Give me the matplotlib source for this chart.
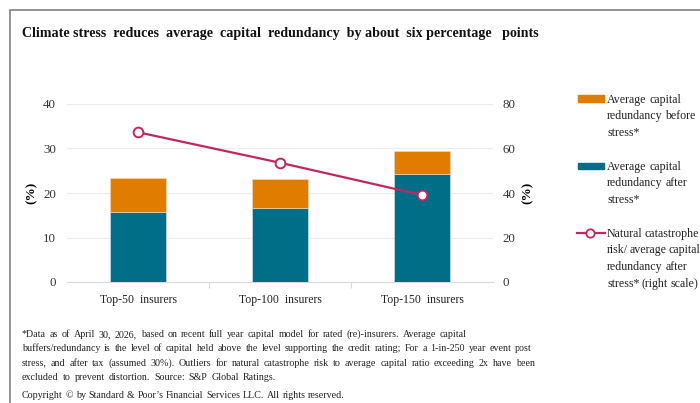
import matplotlib
matplotlib.use("Agg")
import matplotlib.pyplot as plt
from matplotlib.patches import Rectangle
from matplotlib.lines import Line2D
import numpy as np

categories = ["Top-50  insurers", "Top-100  insurers", "Top-150  insurers"]
after_stress = [15.8, 16.7, 24.3]
before_stress = [23.3, 23.1, 29.4]
natcat_ratio = [67.3, 53.6, 39.1]
left_ticks = [0, 10, 20, 30, 40]
right_ticks = [0, 20, 40, 60, 80]

title = "Climate stress  reduces  average  capital  redundancy  by about  six percentage   points"
legend_before = ["Average capital", "redundancy before", "stress*"]
legend_after = ["Average capital", "redundancy after", "stress*"]
legend_line = ["Natural catastrophe", "risk/ average capital", "redundancy after", "stress* (right scale)"]
footnote = [
    "*Data as of April 30, 2026, based on recent full year capital model for rated (re)-insurers. Average capital",
    "buffers/redundancy is the level of capital held above the level supporting the credit rating; For a 1-in-250 year event post",
    "stress, and after tax (assumed 30%). Outliers for natural catastrophe risk to average capital ratio exceeding 2x have been",
    "excluded to prevent distortion. Source: S&P Global Ratings.",
]
copyright_text = "Copyright \u00a9 by Standard & Poor\u2019s Financial Services LLC. All rights reserved."

ORANGE = "#E07C00"
TEAL = "#006E87"
CRIMSON = "#C2255F"

plt.rcParams["font.family"] = ["Liberation Serif", "DejaVu Serif"]

W, H = 700, 403
fig = plt.figure(figsize=(7, 4.03), dpi=100)

def fx(px):
    return px / W

def fy(py):
    return 1 - py / H

AX_L, AX_R = 67, 493
ax = fig.add_axes([fx(AX_L), fy(282), fx(AX_R) - fx(AX_L), fy(104) - fy(282)])
x = np.arange(len(categories))
top_part = [b - a for a, b in zip(after_stress, before_stress)]
ax.bar(x, after_stress, width=0.4, color=TEAL, edgecolor="#dfe9ec", linewidth=0.4, zorder=3)
ax.bar(x, top_part, bottom=after_stress, width=0.4, color=ORANGE, edgecolor="#f3dcc0", linewidth=0.4, zorder=3)
ax.set_xlim(-0.5, 2.5)
ax.set_ylim(0, 40)
ax.set_yticks(left_ticks)
ax.set_yticklabels([str(t) for t in left_ticks], fontsize=9.3, color="#333333")
ax.set_xticks(x)
ax.set_xticklabels(categories, fontsize=8.5, color="#222222")
ax.set_xticks([0.5, 1.5], minor=True)
ax.tick_params(axis="x", which="major", length=0, pad=9)
ax.tick_params(axis="x", which="minor", length=4, color="#d9d9d9", width=0.8)
ax.tick_params(axis="y", length=0, pad=8)
ax.grid(axis="y", color="#ececec", linewidth=0.8, zorder=0)
for s in ["top", "left", "right"]:
    ax.spines[s].set_visible(False)
ax.spines["bottom"].set_color("#d9d9d9")
ax.spines["bottom"].set_linewidth(0.8)
ax.set_ylabel("(%)", fontsize=9.5, fontweight="bold", rotation=90, ha="center", va="center")
ax.yaxis.set_label_coords((32 - AX_L) / (AX_R - AX_L), 0.5)

ax2 = ax.twinx()
ax2.plot(x, natcat_ratio, color=CRIMSON, linewidth=1.6, marker="o", markersize=7,
         markerfacecolor="white", markeredgecolor=CRIMSON, markeredgewidth=1.4, zorder=5)
ax2.set_ylim(0, 80)
ax2.set_yticks(right_ticks)
ax2.set_yticklabels([str(t) for t in right_ticks], fontsize=9.3, color="#333333")
ax2.tick_params(axis="y", length=0, pad=7)
for s in ["top", "left", "right", "bottom"]:
    ax2.spines[s].set_visible(False)
ax2.set_ylabel("(%)", fontsize=9.5, fontweight="bold", rotation=90, ha="center", va="center")
ax2.yaxis.set_label_coords((528 - AX_L) / (AX_R - AX_L), 0.5)

# title
fig.text(fx(22), fy(33), title, fontsize=10.1, fontweight="bold", ha="left", va="center", color="#111111")

# justified text helper
pending = []

def add_line(line, x0, x1, y, fontsize):
    words = line.split()
    base = y + fontsize * 0.42
    texts = [fig.text(fx(x0), fy(base), w, fontsize=fontsize, ha="left", va="baseline", color="#222222")
             for w in words]
    pending.append((texts, x0, x1, fontsize))

# legend (manual)
LS = 16.7
LF = 8.6
fig.patches.append(Rectangle((fx(578), fy(101.5)), fx(604) - fx(578), fy(95.5) - fy(101.5),
                             transform=fig.transFigure, color=ORANGE, figure=fig))
for t, y, r in zip(legend_before, [99, 99 + LS, 99 + 2 * LS], [None, 695, None]):
    add_line(t, 607, r, y, LF)
fig.patches.append(Rectangle((fx(578), fy(169)), fx(604) - fx(578), fy(163) - fy(169),
                             transform=fig.transFigure, color=TEAL, figure=fig))
for t, y, r in zip(legend_after, [166, 166 + LS, 166 + 2 * LS], [None, 687, None]):
    add_line(t, 607, r, y, LF)
fig.lines.append(Line2D([fx(577), fx(605)], [fy(233), fy(233)], transform=fig.transFigure,
                        color=CRIMSON, linewidth=1.6, figure=fig))
fig.lines.append(Line2D([fx(590)], [fy(233)], transform=fig.transFigure, marker="o", markersize=6,
                        markerfacecolor="white", markeredgecolor=CRIMSON, markeredgewidth=1.3,
                        linestyle="none", figure=fig))
for i, (t, r) in enumerate(zip(legend_line, [695, 699, 687, 698])):
    add_line(t, 607, r, 233 + i * LS, LF)

# footnotes
FF = 7.2
for i, (t, r) in enumerate(zip(footnote, [467, 532, 535, 276])):
    add_line(t, 22, r, 334 + i * 14.3, FF)
add_line(copyright_text, 22, 345, 395, FF)

# lay out justified lines
fig.canvas.draw()
renderer = fig.canvas.get_renderer()
for texts, x0, x1, fs in pending:
    widths = [t.get_window_extent(renderer).width for t in texts]
    space = fs * 0.25 * 100 / 72
    if x1 is None or len(texts) < 2:
        gap = space
    else:
        gap = (x1 - x0 - sum(widths)) / (len(texts) - 1)
        gap = max(gap, space * 0.6)
    pos = x0
    for t, w in zip(texts, widths):
        t.set_x(fx(pos))
        pos += w + gap

# frame lines
fig.lines.append(Line2D([fx(10), fx(10), fx(700)], [fy(403), fy(10), fy(10)], transform=fig.transFigure,
                        color="#7f7f7f", linewidth=1.2, figure=fig))

fig.savefig("out.png", dpi=100)
